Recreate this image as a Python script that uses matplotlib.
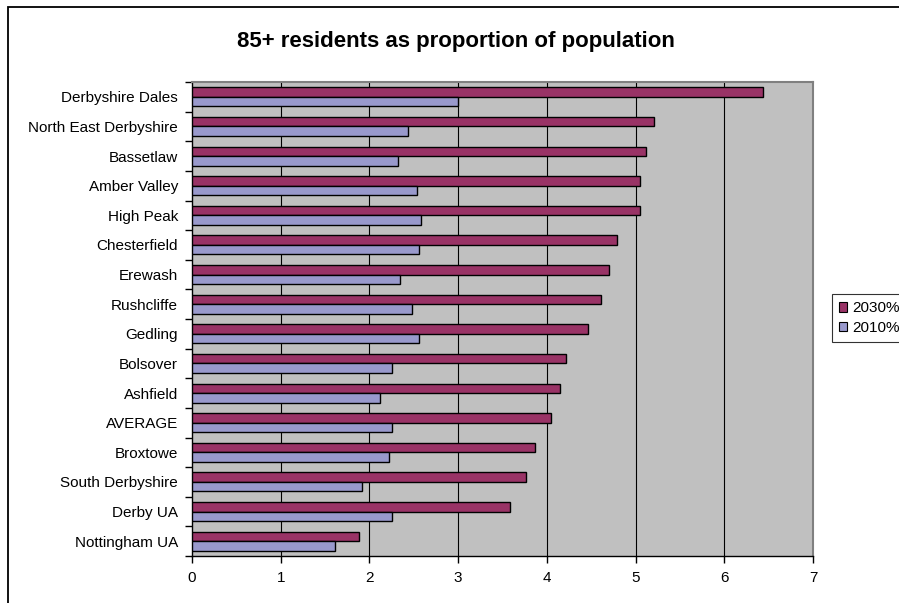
import numpy as np
import matplotlib
matplotlib.use("Agg")
import matplotlib.pyplot as plt
from matplotlib.patches import Patch, Rectangle

plt.rcParams["font.family"] = ["Liberation Sans", "DejaVu Sans"]

districts = [
    "Derbyshire Dales", "North East Derbyshire", "Bassetlaw", "Amber Valley",
    "High Peak", "Chesterfield", "Erewash", "Rushcliffe", "Gedling",
    "Bolsover", "Ashfield", "AVERAGE", "Broxtowe", "South Derbyshire",
    "Derby UA", "Nottingham UA",
]
pct_2030 = [6.44, 5.21, 5.12, 5.05, 5.05, 4.79, 4.70, 4.61, 4.46,
            4.22, 4.15, 4.05, 3.87, 3.76, 3.58, 1.88]
pct_2010 = [3.00, 2.44, 2.32, 2.54, 2.58, 2.56, 2.35, 2.48, 2.56,
            2.26, 2.12, 2.25, 2.22, 1.92, 2.26, 1.61]
x_ticks = [0, 1, 2, 3, 4, 5, 6, 7]
series_names = ["2030%", "2010%"]

W, H = 899, 603
fig = plt.figure(figsize=(W / 100, H / 100), dpi=100)
fig.patch.set_facecolor("white")

# chart border
fig.patches.append(Rectangle((8 / W, 0 - 0.01), 1.2, 1 - 7 / H + 0.01,
                             transform=fig.transFigure, fill=False,
                             edgecolor="black", linewidth=1.3))

left, right, top, bottom = 192 / W, 813 / W, 1 - 82 / H, 1 - 556 / H
ax = fig.add_axes([left, bottom, right - left, top - bottom])
ax.set_facecolor("#C0C0C0")

y = np.arange(len(districts))
h = 0.32
red = "#993366"
blue = "#9999CC"
ax.barh(y - h / 2, pct_2030, height=h, color=red, edgecolor="black",
        linewidth=1.0, zorder=3)
ax.barh(y + h / 2, pct_2010, height=h, color=blue, edgecolor="black",
        linewidth=1.0, zorder=3)

ax.set_xlim(0, 7)
ax.set_ylim(len(districts) - 0.5, -0.5)
ax.set_xticks(x_ticks)
ax.set_xticklabels([str(t) for t in x_ticks])
for t in x_ticks[1:-1]:
    ax.axvline(t, color="black", linewidth=0.8, zorder=1)

ax.set_yticks(y)
ax.set_yticklabels(districts)
ax.set_yticks(np.arange(len(districts) + 1) - 0.5, minor=True)
ax.tick_params(axis="y", which="major", length=0, pad=10, labelsize=11)
ax.tick_params(axis="y", which="minor", length=5, width=1.0, direction="out")
ax.tick_params(axis="x", length=5, width=1.0, direction="out", pad=6,
               labelsize=11)

for side in ("top", "right"):
    ax.spines[side].set_color("#808080")
    ax.spines[side].set_linewidth(1.5)
for side in ("left", "bottom"):
    ax.spines[side].set_color("black")
    ax.spines[side].set_linewidth(1.0)

fig.text(456 / W, 1 - 41 / H, "85+ residents as proportion of population",
         ha="center", va="center", fontsize=16, fontweight="bold")

handles = [Patch(facecolor=red, edgecolor="black", linewidth=0.8),
           Patch(facecolor=blue, edgecolor="black", linewidth=0.8)]
leg = fig.legend(handles, series_names, loc="center left",
                 bbox_to_anchor=(832 / W, 1 - 318 / H), borderaxespad=0,
                 frameon=True, fancybox=False, fontsize=11,
                 handlelength=0.55, handleheight=0.55, handletextpad=0.3,
                 borderpad=0.45, labelspacing=0.35)
leg.get_frame().set_edgecolor("black")
leg.get_frame().set_linewidth(0.8)

fig.savefig("out.png", dpi=100)
